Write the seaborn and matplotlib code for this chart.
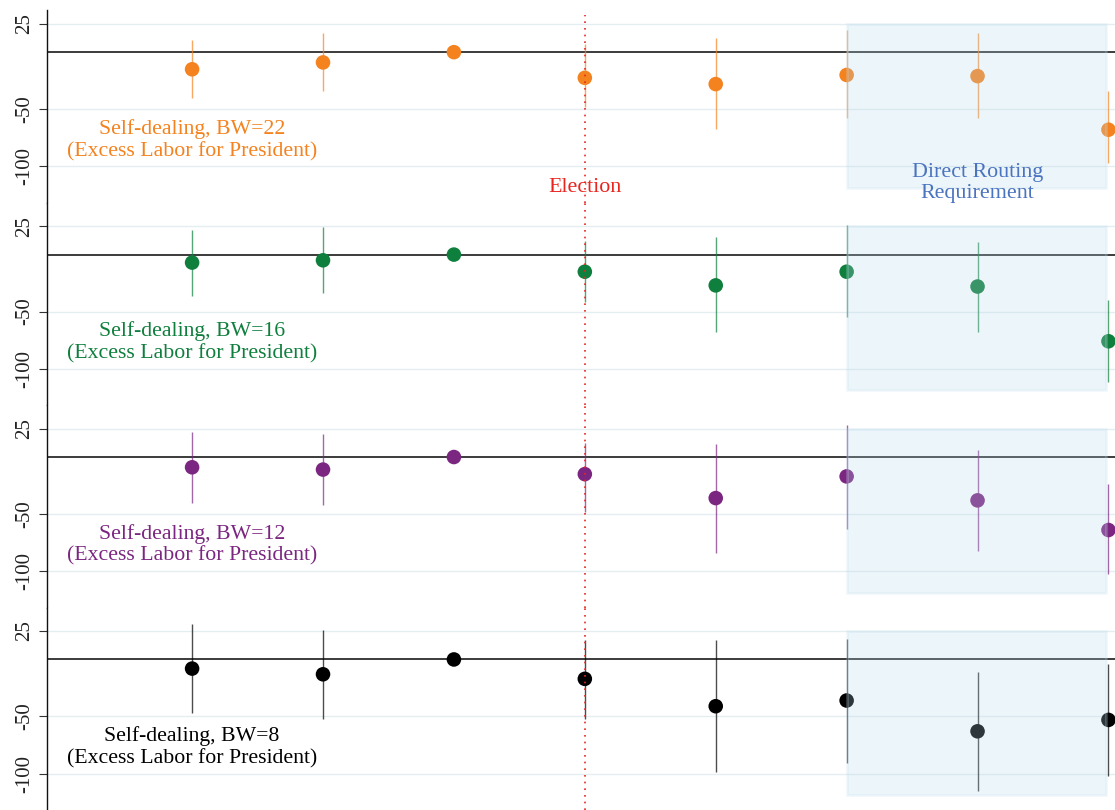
import numpy as np
import pandas as pd
import matplotlib
matplotlib.use("Agg")
import matplotlib.pyplot as plt
import seaborn as sns
from matplotlib.patches import Rectangle

# event-time positions (index), election at index 3, direct routing from index 5
periods = [0, 1, 2, 3, 4, 5, 6, 7]
election_pos = 3
routing_start, routing_end = 5, 6.98

bandwidths = ["22", "16", "12", "8"]
colors = ["#F4831F", "#0F7F3D", "#7B2680", "#000000"]

est_22 = [-15, -9, 0, -22.5, -28, -20, -21, -68]
lo_22 = [-40, -34, 0, -48, -67, -58, -58, -97]
hi_22 = [11, 17, 0, 7, 12, 19, 17, -34]

est_16 = [-7, -5, 0, -15, -27, -15, -28, -76]
lo_16 = [-36, -34, 0, -42, -68, -55, -68, -112]
hi_16 = [22, 24, 0, 12, 15, 26, 11, -40]

est_12 = [-9, -11, 0, -15, -36, -17, -38, -64]
lo_12 = [-40, -42, 0, -48, -84, -63, -82, -103]
hi_12 = [22, 20, 0, 12, 11, 28, 6, -24]

est_8 = [-8, -13, 0, -17, -41, -36, -63, -53]
lo_8 = [-47, -52, 0, -52, -99, -91, -115, -102]
hi_8 = [31, 26, 0, 17, 17, 18, -11, -4]

series = [(est_22, lo_22, hi_22), (est_16, lo_16, hi_16),
          (est_12, lo_12, hi_12), (est_8, lo_8, hi_8)]

yticks = [25, -50, -100]

sns.set_theme(style="white")
plt.rcParams["font.family"] = ["Liberation Serif", "DejaVu Serif"]

fig, axes = plt.subplots(4, 1, figsize=(11.15, 8.1), dpi=100,
                         gridspec_kw={"height_ratios": [169, 177.5, 177.5, 177.5]})
fig.subplots_adjust(left=0.0422, right=1.0, top=0.9877, bottom=0.0, hspace=0)

for i, ax in enumerate(axes):
    est, lo, hi = series[i]
    col = colors[i]
    df = pd.DataFrame({"period": periods, "est": est, "lo": lo, "hi": hi})

    ax.vlines(df["period"], df["lo"], df["hi"], color=col, lw=1.0, alpha=0.7, zorder=3)
    sns.scatterplot(data=df, x="period", y="est", color=col, s=110,
                    edgecolor="none", ax=ax, zorder=4)

    ax.axhline(0, color="#1a1a1a", lw=1.2, zorder=2)

    top = 37 if i == 0 else 45.5
    ax.set_ylim(-132, top)
    ax.set_xlim(-1.108, 7.05)
    ax.set_yticks(yticks)
    ax.set_yticklabels([str(t) for t in yticks], rotation=90, va="center",
                       fontsize=15, color="#222222")
    ax.tick_params(axis="y", length=6, width=0.8, color="#333333", left=True, pad=3)
    ax.set_xticks([])
    ax.set_xlabel("")
    ax.set_ylabel("")
    ax.yaxis.grid(True, color="#e4eef1", lw=1.0, zorder=0)
    ax.set_axisbelow(True)

    for side in ["top", "right", "bottom"]:
        ax.spines[side].set_visible(False)
    ax.spines["left"].set_color("#111111")
    ax.spines["left"].set_linewidth(1.0)

    # election line
    vtop = 33 if i == 0 else top
    ax.vlines(election_pos, -132, vtop, color="#E8261F", lw=1.2,
              linestyles=(0, (1, 3)), zorder=5)

    # direct routing box drawn over points
    ax.add_patch(Rectangle((routing_start, -119), routing_end - routing_start, 144,
                           facecolor="#b7d8ea", alpha=0.25, edgecolor="#c8e2f0",
                           lw=2, zorder=6))

    ax.text(0, -77, f"Self-dealing, BW={bandwidths[i]}\n(Excess Labor for President)",
            color=col, ha="center", va="center", fontsize=15.7, linespacing=1.2,
            zorder=7)

axes[0].text(election_pos, -119, "Election", color="#E8261F", ha="center",
             va="center", fontsize=15.8, zorder=7)
axes[0].text(6, -114.5, "Direct Routing\nRequirement", color="#4A74C0", ha="center",
             va="center", fontsize=15.8, linespacing=1.15, zorder=7)

fig.savefig("out.png", dpi=100)
plt.close(fig)
